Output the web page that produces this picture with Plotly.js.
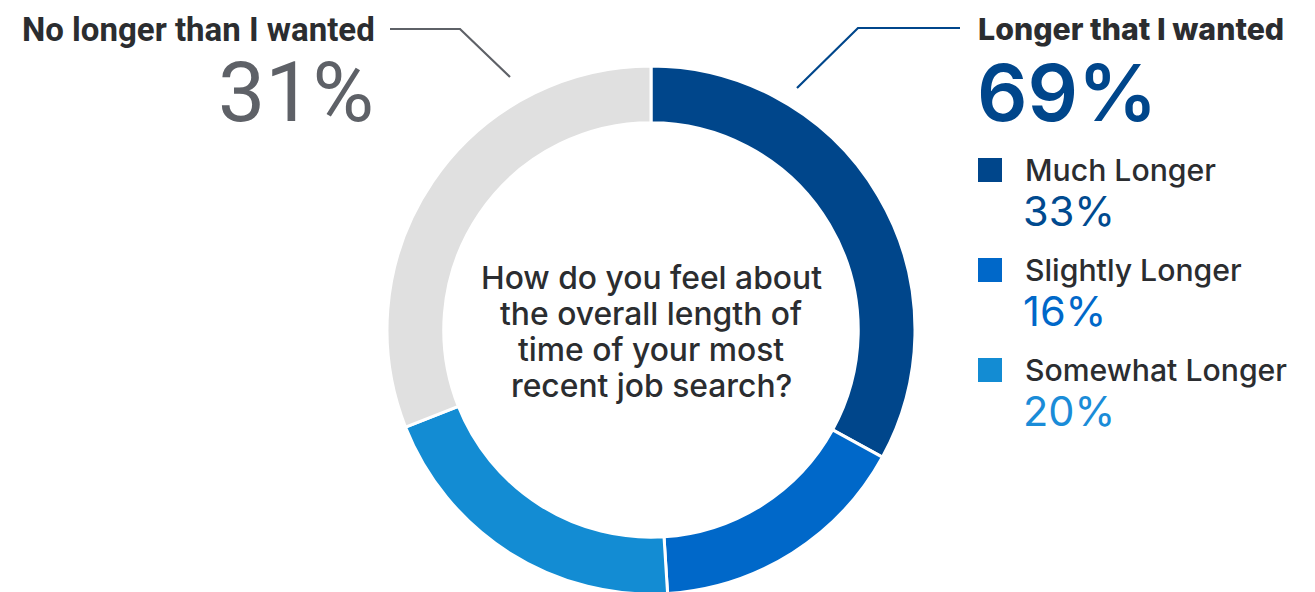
<!DOCTYPE html>
<html>
<head>
<meta charset="utf-8">
<script src="https://cdn.plot.ly/plotly-3.0.1.min.js"></script>
<style>
html,body{margin:0;padding:0;background:#fff;overflow:hidden;}
#chart{width:1315px;height:660px;}
</style>
</head>
<body>
<div id="chart"></div>
<script>
// ---- data ----
const categories = ["Much Longer", "Slightly Longer", "Somewhat Longer", "No longer than I wanted"];
const values = [33, 16, 20, 31];
const sliceColors = ["#00468B", "#0068C9", "#138CD3", "#E0E0E0"];
const groupLabels = ["No longer than I wanted", "Longer that I wanted"];
const groupValues = [31, 69];
const question = ["How do you feel about", "the overall length of", "time of your most", "recent job search?"];
const legendPctColors = ["#004A8F", "#0068C9", "#1A8CD8"];

// ---- geometry helpers (page pixels -> paper) ----
const W = 1315, H = 660;
const X = px => px / W;
const Y = py => 1 - py / H;
const cx = 651, cy = 330, R = 264;

const DARK = "#2B2D30";
const GRAY = "#5E6167";
const NAVY = "#00468B";

const trace = {
  type: "pie",
  labels: categories,
  values: values,
  sort: false,
  direction: "clockwise",
  rotation: 0,
  hole: 0.785,
  textinfo: "none",
  hoverinfo: "label+percent",
  marker: {colors: sliceColors, line: {color: "#ffffff", width: 3}},
  showlegend: false,
  domain: {x: [X(cx - R), X(cx + R)], y: [Y(cy + R), Y(cy - R)]}
};

const annotations = [];
const shapes = [];

// Left group label
annotations.push({xref:"paper", yref:"paper", x:X(377), y:Y(29), xanchor:"right", yanchor:"middle",
  text:groupLabels[0], showarrow:false, font:{family:"Roboto", size:33, weight:700, color:DARK}});
annotations.push({xref:"paper", yref:"paper", x:X(376), y:Y(92), xanchor:"right", yanchor:"middle",
  text:groupValues[0] + "%", showarrow:false, font:{family:"Roboto", size:84, weight:400, color:GRAY}});

// Right group label
annotations.push({xref:"paper", yref:"paper", x:X(976), y:Y(29), xanchor:"left", yanchor:"middle",
  text:groupLabels[1], showarrow:false, font:{family:"Inter", size:30.3, weight:800, color:DARK}});
annotations.push({xref:"paper", yref:"paper", x:X(975), y:Y(92), xanchor:"left", yanchor:"middle",
  text:groupValues[1] + "%", showarrow:false, font:{family:"Inter", size:79, weight:600, color:NAVY}});

// Connector lines
shapes.push({type:"path", xref:"paper", yref:"paper",
  path:`M ${X(390)} ${Y(29)} L ${X(460)} ${Y(29)} L ${X(510)} ${Y(77)}`,
  line:{color:GRAY, width:2.2}});
shapes.push({type:"path", xref:"paper", yref:"paper",
  path:`M ${X(797)} ${Y(88)} L ${X(858)} ${Y(28)} L ${X(960)} ${Y(28)}`,
  line:{color:NAVY, width:2.2}});

// Legend (three "longer" categories)
for (let i = 0; i < 3; i++) {
  const yc = 170 + i * 100;
  shapes.push({type:"rect", xref:"paper", yref:"paper",
    x0:X(978), x1:X(1002), y0:Y(yc - 12), y1:Y(yc + 12),
    fillcolor:sliceColors[i], line:{width:0}});
  annotations.push({xref:"paper", yref:"paper", x:X(1023), y:Y(yc), xanchor:"left", yanchor:"middle",
    text:categories[i], showarrow:false, font:{family:"Inter", size:30.2, weight:500, color:DARK}});
  annotations.push({xref:"paper", yref:"paper", x:X(1021), y:Y(yc + 41), xanchor:"left", yanchor:"middle",
    text:values[i] + "%", showarrow:false, font:{family:"Inter", size:41.5, weight:400, color:legendPctColors[i]}});
}

// Center question
question.forEach((line, i) => {
  annotations.push({xref:"paper", yref:"paper", x:X(cx), y:Y(277 + i * 36), xanchor:"center", yanchor:"middle",
    text:line, showarrow:false, font:{family:"Inter", size:31.8, weight:500, color:DARK}});
});

const layout = {
  width: W, height: H,
  margin: {l:0, r:0, t:0, b:0},
  paper_bgcolor: "#ffffff",
  plot_bgcolor: "#ffffff",
  showlegend: false,
  annotations: annotations,
  shapes: shapes
};

Plotly.newPlot("chart", [trace], layout, {displayModeBar:false, staticPlot:true});
</script>
</body>
</html>
